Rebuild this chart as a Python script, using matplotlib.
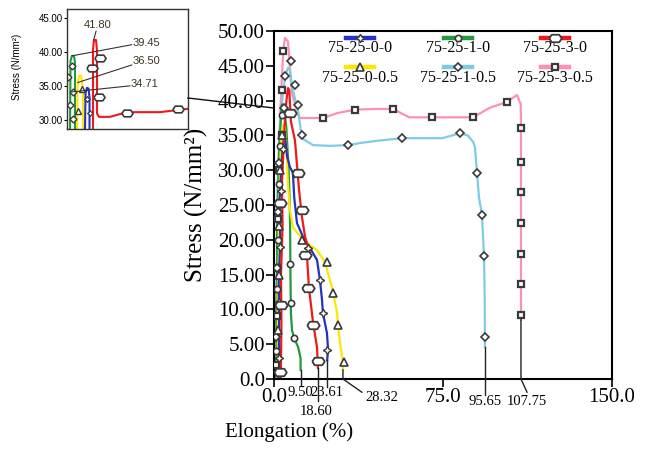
import matplotlib
matplotlib.use('Agg')
import matplotlib.pyplot as plt
from matplotlib.lines import Line2D

SERIF = ['Liberation Serif', 'DejaVu Serif']
SANS = ['Liberation Sans', 'DejaVu Sans']

# ---------------- data ----------------
names = ['75-25-0-0', '75-25-1-0', '75-25-3-0', '75-25-0-0.5', '75-25-1-0.5', '75-25-3-0.5']
colors = ['#2233c0', '#1f9a3c', '#f01818', '#ffe600', '#7ecbe6', '#ff8fb3']

# 75-25-0-0 (blue)
b_x = [2.0, 2.3, 2.1, 2.8, 2.5, 3.2, 3.8, 4.5, 5.0, 5.8, 7.0, 8.4, 9.0, 10.2, 12.9, 16.0, 19.1, 20.4, 21.3, 21.7, 23.5, 24.0, 23.6]
b_y = [0, 7, 14, 20, 26, 30, 33, 34.71, 34.5, 32, 30.5, 29.6, 26, 22.4, 20.4, 18.8, 17.1, 14.2, 11.4, 9.5, 6.6, 4.2, 2.7]
b_mx = [2.2, 2.4, 2.7, 3.0, 3.8, 15.1, 20.4, 21.8, 23.5]
b_my = [3, 11, 19, 27, 33, 18.8, 14.2, 9.5, 4.2]

# 75-25-1-0 (green)
g_x = [0.8, 1.2, 1.0, 1.5, 1.3, 1.8, 2.0, 2.5, 3.0, 3.5, 4.5, 5.5, 6.5, 7.0, 7.2, 7.3, 7.5, 8.0, 8.9, 10.7, 11.8, 11.8]
g_y = [0, 5, 10, 15, 20, 25, 30, 34, 37, 39.45, 39.0, 36, 30, 25, 20, 15, 9.5, 7, 5.9, 4.6, 3.0, 1.3]
g_mx = [1.0, 1.3, 1.6, 2.2, 2.8, 3.4, 7.3, 7.5, 8.9]
g_my = [4, 13, 20, 28, 33.5, 37.9, 16.5, 10.9, 5.9]

# 75-25-3-0 (red)
r_x = [3.0, 3.3, 3.1, 3.8, 3.5, 4.2, 4.8, 5.5, 6.2, 6.8, 7.5, 9.3, 11.1, 12.4, 13.8, 16.0, 14.6, 15.5, 17.3, 19.1, 19.5]
r_y = [0, 8, 15, 22, 28, 33, 37, 40, 41.8, 41.5, 37, 34.3, 27.2, 23.3, 20.4, 18.1, 17.8, 13.1, 8.2, 4.5, 1.6]
r_mx = [2.5, 3.0, 2.7, 7.1, 10.7, 12.4, 13.8, 15.1, 17.3, 19.5]
r_my = [1.0, 10.6, 25.3, 38.2, 29.6, 24.3, 17.8, 13.1, 7.8, 2.6]

# 75-25-0-0.5 (yellow)
y_x = [1.5, 1.8, 1.6, 2.2, 2.0, 2.6, 3.0, 3.5, 4.2, 4.8, 5.5, 6.2, 7.1, 8.4, 12.9, 19.1, 22.6, 24.0, 26.2, 28.0, 28.4, 29.3, 30.6, 30.6]
y_y = [0, 6, 12, 18, 24, 29, 33, 35.5, 36.5, 36.2, 33, 28, 24.3, 21.8, 20.0, 18.5, 16.8, 15.2, 12.5, 9.5, 7.6, 5.2, 2.4, 1.3]
y_mx = [1.8, 2.0, 2.4, 2.8, 3.5, 12.4, 23.5, 26.2, 28.4, 31.0]
y_my = [7, 15, 22, 30, 35, 20.0, 16.8, 12.4, 7.8, 2.4]

# 75-25-1-0.5 (cyan)
c_x = [0.5, 1.0, 0.8, 1.4, 1.2, 1.8, 2.2, 3.0, 4.0, 5.0, 6.2, 7.1, 8.0, 10.7, 12.4, 17.3, 25.0, 32.8, 38.2, 45.0, 56.8, 65.0, 74.6, 82.5, 86.0, 88.5, 89.2, 90.1, 91.0, 92.3, 93.2, 93.5, 93.6, 93.6]
c_y = [0, 6, 12, 18, 24, 30, 34, 38, 41, 43.5, 44.7, 44.5, 42, 38.5, 34.6, 33.6, 33.5, 33.6, 33.9, 34.2, 34.6, 34.6, 34.6, 35.3, 35.0, 34.0, 33.2, 29.6, 26.0, 23.6, 17.7, 12.0, 6.0, 4.6]
c_mx = [0.8, 1.3, 1.8, 2.2, 4.4, 4.9, 7.5, 9.3, 10.7, 12.4, 32.8, 56.8, 82.5, 90.1, 92.3, 93.2, 93.6]
c_my = [6, 16, 24, 31, 39, 43.5, 45.7, 42.3, 39.4, 35.1, 33.6, 34.6, 35.3, 29.6, 23.6, 17.7, 6.0]

# 75-25-3-0.5 (pink)
p_x = [0.8, 1.2, 1.0, 1.6, 1.4, 2.0, 2.4, 3.0, 3.6, 4.2, 4.9, 6.2, 6.8, 7.1, 8.0, 10.2, 11.5, 21.7, 28.0, 36.0, 45.0, 52.8, 60.0, 70.1, 80.0, 88.3, 96.0, 103.4, 107.8, 109.5, 109.6, 109.6]
p_y = [0, 6, 12, 18, 24, 30, 35, 40, 44, 47.5, 49.0, 48.5, 46, 44, 41, 38.5, 37.5, 37.5, 38.2, 38.7, 38.8, 38.8, 37.6, 37.6, 37.6, 37.6, 39.0, 39.8, 40.8, 39.5, 36.1, 8.5]
p_mx = [1.0, 1.4, 1.2, 1.6, 2.0, 3.5, 3.5, 4.0, 21.7, 36.0, 52.8, 70.1, 88.3, 103.4, 109.6, 109.6, 109.6, 109.6, 109.6, 109.6, 109.6]
p_my = [2, 9, 16, 23, 30, 35, 41.5, 47.1, 37.5, 38.7, 38.8, 37.6, 37.6, 39.8, 36.1, 31.2, 26.9, 22.4, 18.0, 13.7, 9.2]

# end-value annotations
ann_labels = ['9.50', '18.60', '23.61', '28.32', '95.65', '107.75']
ann_curve_end = [(11.8, 1.3), (19.5, 1.6), (23.6, 2.7), (30.6, 1.3), (93.6, 4.6), (109.6, 8.5)]
ann_mid = [None, None, None, (30.6, 0.0), None, (109.6, 0.0)]
ann_line_end = [(11.8, -0.9), (19.5, -3.2), (23.6, -1.1), (39.0, -1.9), (93.6, -2.3), (112.3, -1.9)]
ann_text = [(11.7, -2.0), (18.6, -4.6), (23.6, -2.0), (47.9, -2.7), (93.7, -3.3), (112.0, -3.3)]

# inset data (zoom of the peak region)
ig_x = [0.25, 0.29, 0.41, 0.58, 0.66, 0.66]
ig_y = [28.6, 38.7, 39.45, 39.45, 38.4, 28.6]
iy_x = [0.83, 0.87, 1.0, 1.16, 1.32, 1.32]
iy_y = [28.6, 34.9, 36.5, 36.5, 34.4, 28.6]
ib_x = [1.49, 1.53, 1.65, 1.78, 1.86, 1.86]
ib_y = [28.6, 33.9, 34.71, 34.6, 33.3, 28.6]
ir_x = [2.15, 2.15, 2.23, 2.40, 2.48, 2.48, 2.64, 3.55, 4.55, 5.62, 7.69, 10.0]
ir_y = [28.6, 40.4, 41.8, 41.8, 40.1, 30.9, 30.4, 30.4, 30.9, 31.1, 31.1, 31.6]
ir_mx = [2.07, 2.73, 2.64, 4.96, 9.17]
ir_my = [37.7, 39.1, 33.4, 30.9, 31.6]
ig_mx = [0.08, 0.41, 0.5, 0.25, 0.5]
ig_my = [36.3, 38.0, 34.1, 32.1, 30.1]
iy_mx = [1.24, 0.91]
iy_my = [34.6, 31.3]
ib_mx = [1.9, 1.65]
ib_my = [30.9, 33.0]
inset_labels = ['41.80', '39.45', '36.50', '34.71']
inset_label_pos = [(2.56, 44.1), (5.4, 41.3), (5.4, 38.7), (5.25, 35.3)]
inset_line_from = [(2.4, 43.1), (5.35, 41.1), (5.35, 38.1), (5.2, 35.0)]
inset_line_to = [(2.2, 41.8), (0.41, 39.45), (0.9, 35.5), (0.4, 34.1)]

# ---------------- styles ----------------
EC = '#3a3a3a'
hexw = [(-1, 0), (-0.6, 0.6), (0.6, 0.6), (1, 0), (0.6, -0.6), (-0.6, -0.6), (-1, 0)]
mstyle = [
    dict(marker=(4, 1, 0), ms=6, mew=1.0),
    dict(marker='o', ms=4.5, mew=1.2),
    dict(marker=hexw, ms=9, mew=1.3),
    dict(marker='^', ms=6, mew=1.2),
    dict(marker='D', ms=4.2, mew=1.2),
    dict(marker='s', ms=4.2, mew=1.6),
]

fig = plt.figure(figsize=(6.51, 4.49), dpi=100)
W, H = 651, 449
ax = fig.add_axes([274 / W, (H - 379) / H, 338 / W, 348 / H])

lines = [(b_x, b_y), (g_x, g_y), (r_x, r_y), (y_x, y_y), (c_x, c_y), (p_x, p_y)]
marks = [(b_mx, b_my), (g_mx, g_my), (r_mx, r_my), (y_mx, y_my), (c_mx, c_my), (p_mx, p_my)]
order = [5, 4, 1, 3, 0, 2]
for i in order:
    ax.plot(lines[i][0], lines[i][1], color=colors[i], lw=1.6, zorder=2)
for i in order:
    ax.plot(marks[i][0], marks[i][1], ls='none', mfc='white', mec=EC, zorder=3, **mstyle[i])

# annotations of final elongation
for lab, ce, md, le, tp in zip(ann_labels, ann_curve_end, ann_mid, ann_line_end, ann_text):
    xs = [ce[0]] + ([md[0]] if md else []) + [le[0]]
    ys = [ce[1]] + ([md[1]] if md else []) + [le[1]]
    ax.plot(xs, ys, color='#222222', lw=1.0, clip_on=False, zorder=4)
    ax.text(tp[0], tp[1], lab, ha='center', va='center', fontsize=10.5, family=SERIF, clip_on=False)

ax.set_xlim(0, 150)
ax.set_ylim(0, 50)
ax.set_xticks([0, 75, 150])
ax.set_xticklabels(['0.0', '75.0', '150.0'])
ax.set_yticks(list(range(0, 51, 5)))
ax.set_yticklabels(['0.0'] + ['%.2f' % v for v in range(5, 51, 5)])
ax.tick_params(axis='both', direction='out', length=6, width=1.2, labelsize=15, pad=0.5)
for lab in ax.get_xticklabels() + ax.get_yticklabels():
    lab.set_family(SERIF)
for s in ax.spines.values():
    s.set_linewidth(1.5)

# legend (label under handle)
leg_cx = [0.254, 0.544, 0.831]
leg_hy = [0.980, 0.897]
leg_ty = [0.951, 0.865]
for i, nm in enumerate(names):
    r, c = divmod(i, 3)
    ax.add_line(Line2D([leg_cx[c] - 0.042, leg_cx[c] + 0.042], [leg_hy[r]] * 2, transform=ax.transAxes,
                       color=colors[i], lw=3.2, zorder=5))
    ax.add_line(Line2D([leg_cx[c]], [leg_hy[r]], transform=ax.transAxes, ls='none', mfc='white', mec=EC,
                       zorder=6, **mstyle[i]))
    ax.text(leg_cx[c], leg_ty[r], nm, transform=ax.transAxes, ha='center', va='center',
            fontsize=11.5, family=SERIF)

fig.text(196 / W, 1 - 205 / H, 'Stress (N/mm\u00b2)', rotation=90, ha='center', va='center',
         fontsize=18, family=SERIF)
fig.text(289 / W, 1 - 432 / H, 'Elongation (%)', ha='center', va='center', fontsize=15, family=SERIF)

# ---------------- inset ----------------
ai = fig.add_axes([67 / W, (H - 129) / H, 121 / W, 120 / H])
ai.plot(ig_x, ig_y, color=colors[1], lw=1.5)
ai.plot(iy_x, iy_y, color=colors[3], lw=1.5)
ai.plot(ib_x, ib_y, color=colors[0], lw=1.5)
ai.plot(ir_x, ir_y, color=colors[2], lw=1.5)
ai.plot(ig_mx, ig_my, ls='none', mfc='white', mec=EC, marker='D', ms=3.5, mew=1.0)
ai.plot(iy_mx, iy_my, ls='none', mfc='white', mec=EC, marker='^', ms=4.5, mew=1.0)
ai.plot(ib_mx, ib_my, ls='none', mfc='white', mec=EC, marker=(4, 1, 0), ms=4.5, mew=0.8)
ai.plot(ir_mx, ir_my, ls='none', mfc='white', mec=EC, marker=hexw, ms=8, mew=1.2)
for lab, pos, lf, lt in zip(inset_labels, inset_label_pos, inset_line_from, inset_line_to):
    ai.plot([lf[0], lt[0]], [lf[1], lt[1]], color='#333333', lw=0.8)
    ha = 'center' if lab == '41.80' else 'left'
    ai.text(pos[0], pos[1], lab, ha=ha, va='center', fontsize=8, color='#3d3322', family=SANS)
ai.set_xlim(0, 10)
ai.set_ylim(28.6, 46.4)
ai.set_xticks([])
ai.set_yticks([30, 35, 40, 45])
ai.set_yticklabels(['30.00', '35.00', '40.00', '45.00'])
ai.tick_params(axis='y', length=2, labelsize=7, pad=1)
for lab in ai.get_yticklabels():
    lab.set_family(SANS)
for s in ai.spines.values():
    s.set_linewidth(1.0)
    s.set_color('#333333')
fig.text(17 / W, 1 - 67 / H, 'Stress (N/mm\u00b2)', rotation=90, ha='center', va='center',
         fontsize=7, family=SANS)

fig.add_artist(Line2D([188 / W, 274 / W], [1 - 98 / H, 1 - 108 / H], transform=fig.transFigure,
                      color='#111111', lw=1.0))

fig.savefig('out.png', dpi=100)
